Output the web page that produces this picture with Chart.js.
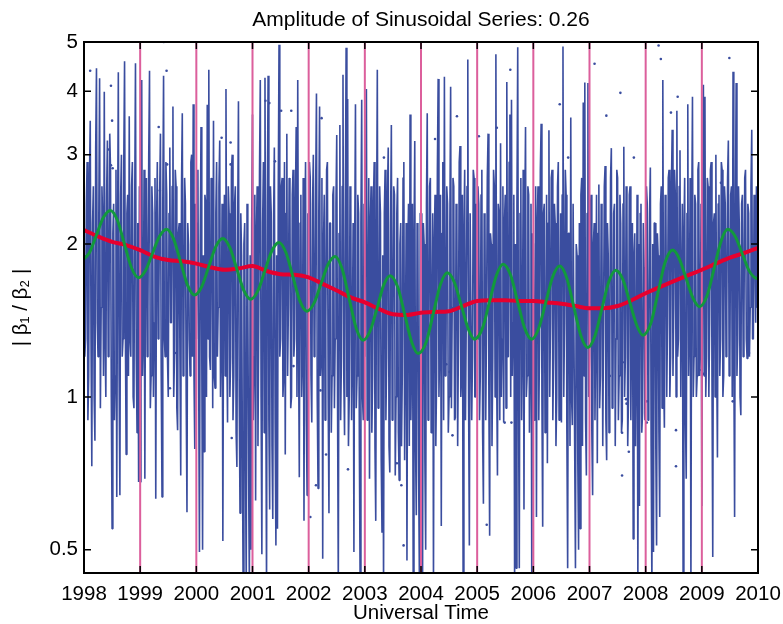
<!DOCTYPE html>
<html>
<head>
<meta charset="utf-8">
<script src="https://cdn.jsdelivr.net/npm/chart.js@4.4.1/dist/chart.umd.min.js"></script>
<style>
  html, body { margin: 0; padding: 0; background: #fff; }
</style>
</head>
<body>
<canvas id="chart" width="783" height="624"></canvas>
<script>
const TITLE = 'Amplitude of Sinusoidal Series: 0.26';
const FONT = '"Liberation Sans", Arial, Helvetica, sans-serif';

const yearTicks = [1998, 1999, 2000, 2001, 2002, 2003, 2004, 2005, 2006, 2007, 2008, 2009, 2010];
const yTicks = [0.5, 1, 2, 3, 4, 5];
const yearLines = [1999, 2000, 2001, 2002, 2003, 2004, 2005, 2006, 2007, 2008, 2009];
const Y_MIN = 0.45;
const Y_MAX = 5;

// blue ratio series, 72 samples per year
const blue1998 = [1.9,1.2, 1.3,2.4, 2.9,0.9, 1.1,2.7, 3.5,1.3, 0.73,2.2, 2.6,1.0, 0.82,3.1, 4.44,1.4, 1.2,2.3, 4.24,0.95, 1.5,2.6, 2.2,1.1, 3.99,1.3, 1.0,2.5, 3.2,1.2, 1.4,3.3, 2.8,1.0, 0.55,2.1, 2.4,0.9, 1.1,2.8, 0.635,2.0, 4.36,1.1, 0.64,2.5, 3.0,1.2, 1.3,2.9, 4.58,1.4, 0.77,2.3, 2.5,1.1, 3.57,1.3, 1.2,2.6, 2.9,1.0, 0.95,2.4, 4.54,1.2, 0.85,2.2, 0.68,2.6];
const blue1999 = [0.68,2.5, 4.21,1.1, 1.3,2.8, 0.69,2.3, 2.7,1.2, 1.5,3.0, 4.39,0.95, 1.1,2.6, 2.3,1.0, 1.4,2.7, 0.63,2.2, 2.9,1.3, 1.6,2.5, 3.3,1.1, 0.635,2.4, 4.29,1.3, 1.2,2.9, 2.5,1.2, 1.0,2.3, 3.1,1.4, 1.4,2.6, 3.73,1.0, 1.2,2.8, 2.6,0.95, 0.86,2.1, 2.2,1.2, 0.70,2.6, 3.62,1.1, 1.3,2.7, 2.4,1.0, 0.593,2.2, 2.0,1.3, 1.1,2.9, 3.0,1.2, 3.77,1.1, 0.79,2.4];
const blue2000 = [1.3,2.2, 2.8,1.1, 0.495,2.0, 3.4,1.2, 0.50,1.9, 0.78,2.5, 2.4,1.0, 3.76,1.3, 4.41,1.2, 1.13,2.7, 2.6,0.95, 3.5,1.1, 1.04,2.3, 2.9,1.2, 1.5,2.6, 3.2,1.0, 1.3,2.4, 0.52,1.8, 2.5,1.1, 4.04,1.3, 0.89,2.6, 2.3,1.0, 1.2,2.8, 3.0,0.9, 1.1,2.4, 2.6,0.85, 0.728,2.2, 3.82,1.0, 0.59,2.3, 1.9,0.8, 0.42,2.0, 2.2,0.75, 0.42,2.4, 1.6,0.7, 0.42,1.9, 0.5,2.2];
const blue2001 = [3.6,0.9, 1.2,2.5, 0.625,2.1, 2.6,0.8, 1.4,2.8, 4.21,1.0, 0.49,2.2, 2.9,0.85, 4.25,1.1, 0.42,2.4, 4.29,0.9, 0.6,2.6, 2.3,0.8, 0.575,2.2, 3.1,0.9, 0.51,1.9, 0.55,2.5, 4.94,1.2, 1.3,2.6, 2.7,1.0, 1.1,2.9, 0.77,2.3, 3.3,1.1, 1.5,2.7, 2.4,0.95, 1.0,2.5, 2.8,1.2, 1.3,2.4, 3.4,1.0, 4.21,1.3, 0.695,2.2, 2.5,1.0, 1.2,2.7, 0.57,2.0, 2.9,0.9, 0.64,2.3];
const blue2002 = [1.5,2.9, 2.7,1.1, 0.89,2.4, 3.0,1.2, 1.3,2.6, 3.96,1.0, 0.66,2.3, 3.73,1.1, 1.2,2.7, 0.48,2.0, 2.5,0.9, 1.4,2.8, 2.9,1.0, 0.59,2.2, 2.2,0.85, 1.1,2.5, 2.6,0.95, 1.3,2.4, 3.28,1.0, 0.42,2.1, 3.43,0.9, 1.2,2.6, 4.31,1.1, 0.84,2.3, 4.87,1.0, 3.86,0.8, 1.0,2.6, 2.4,0.9, 1.3,2.2, 0.495,2.0, 3.77,0.95, 1.1,2.5, 2.3,0.8, 0.42,2.2, 3.85,1.0, 0.9,2.4];
const blue2003 = [1.2,2.5, 4.04,0.9, 1.4,2.7, 0.69,2.2, 2.6,0.85, 1.1,2.4, 2.9,0.8, 0.57,2.1, 4.41,0.95, 1.0,2.6, 2.3,0.75, 0.54,1.9, 0.42,2.3, 2.8,0.9, 1.2,2.5, 3.1,0.8, 0.71,2.2, 3.43,0.9, 1.3,2.6, 2.5,0.7, 1.0,2.3, 2.7,0.85, 0.685,2.0, 2.2,0.8, 1.1,2.7, 2.9,0.75, 1.3,2.2, 0.476,1.9, 2.4,0.8, 3.6,0.9, 1.2,2.4, 0.42,2.0, 3.19,0.8, 0.585,2.2, 2.1,0.7, 0.42,2.3];
const blue2004 = [2.3,0.8, 0.42,2.2, 2.0,0.75, 0.5,2.4, 3.62,0.9, 1.2,2.6, 2.7,0.85, 1.4,2.3, 0.42,2.0, 2.5,0.8, 1.1,2.8, 4.23,1.0, 1.3,2.5, 0.557,2.1, 2.9,0.9, 4.27,1.1, 1.2,2.6, 2.4,0.85, 1.0,2.2, 4.08,0.95, 1.5,2.7, 2.6,0.9, 0.91,2.4, 2.2,0.8, 1.3,2.9, 3.12,1.0, 1.1,2.5, 0.42,2.1, 2.8,0.9, 1.4,2.6, 4.62,1.0, 0.51,2.3, 2.3,0.9, 1.2,2.8, 2.7,1.0, 1.0,2.4];
const blue2005 = [1.3,2.6, 2.4,0.9, 1.1,2.5, 2.8,0.85, 0.616,2.3, 2.2,0.9, 1.4,2.7, 3.3,1.0, 0.533,2.1, 2.0,0.8, 1.2,2.8, 2.6,1.0, 4.73,1.1, 0.70,2.4, 2.3,0.9, 3.16,1.0, 1.3,2.6, 0.89,2.2, 2.5,0.95, 4.17,1.2, 1.2,2.9, 3.6,1.0, 3.85,1.1, 1.4,2.5, 0.42,2.0, 0.46,2.4, 4.88,1.0, 0.46,2.3, 2.7,0.9, 1.3,2.8, 0.6,2.2, 3.4,1.0, 1.1,2.6, 2.5,0.85, 1.3,2.4, 0.42,2.1];
const blue2006 = [2.0,0.9, 1.2,2.6, 0.58,2.2, 2.6,0.9, 1.3,2.8, 3.45,1.0, 0.555,2.3, 2.4,0.85, 1.1,2.5, 0.74,2.2, 3.35,1.0, 1.4,2.7, 2.8,0.9, 1.2,2.4, 2.2,0.8, 1.0,2.6, 2.9,0.9, 1.3,2.3, 0.89,2.5, 4.9,1.0, 1.4,2.8, 2.5,0.85, 0.46,2.1, 2.1,0.8, 3.55,1.0, 0.88,2.4, 2.4,0.8, 0.46,2.0, 1.9,0.75, 0.5,2.2, 0.55,2.5, 2.7,0.8, 3.8,1.1, 4.16,0.9, 0.7,2.3, 4.15,1.0];
const blue2007 = [1.2,2.3, 2.5,0.85, 0.64,2.0, 2.2,0.9, 1.3,2.5, 0.74,2.1, 2.62,0.95, 1.1,2.4, 2.0,0.8, 1.4,2.6, 2.85,0.9, 0.75,2.2, 1.9,0.85, 1.2,2.7, 3.09,0.95, 1.0,2.3, 2.4,0.8, 1.3,2.8, 2.7,0.9, 1.1,2.5, 2.2,0.85, 0.9,2.4, 3.11,1.0, 1.2,2.6, 2.3,0.8, 1.0,2.5, 2.6,0.9, 1.4,2.2, 0.525,1.9, 2.1,0.8, 1.2,2.5, 0.42,2.0, 0.61,2.3, 2.4,0.85, 0.93,2.2, 1.8,0.9];
const blue2008 = [1.3,2.6, 2.4,0.9, 1.1,2.3, 2.83,0.8, 0.42,2.0, 0.495,2.2, 2.2,0.8, 0.51,2.1, 1.9,0.85, 0.58,2.4, 2.6,0.95, 4.21,1.1, 0.87,2.5, 2.3,1.0, 1.4,2.7, 2.8,1.0, 1.2,2.6, 3.36,1.1, 1.5,2.8, 2.5,1.0, 3.66,1.2, 1.3,2.6, 3.06,1.0, 1.6,2.4, 0.42,2.1, 2.7,0.9, 0.69,2.3, 3.77,1.1, 1.4,2.7, 0.42,2.2, 3.9,1.0, 1.2,2.5, 2.4,1.0, 1.1,2.8, 2.9,1.1, 1.3,2.4];
const blue2009 = [0.61,2.3, 4.12,1.1, 3.9,1.0, 1.2,2.7, 2.6,1.0, 1.4,2.8, 2.9,1.1, 0.484,2.2, 2.3,1.0, 3.0,1.2, 0.76,2.4, 2.5,1.1, 1.3,2.9, 2.8,1.0, 1.1,2.6, 2.4,1.2, 1.5,2.7, 3.2,1.1, 1.2,2.5, 2.6,1.0, 4.37,1.2, 0.58,2.3, 4.15,1.1, 1.3,2.6, 2.2,1.0, 0.92,2.4, 2.5,1.2, 1.4,2.7, 2.8,1.3, 1.19,2.4, 2.3,1.2, 1.5,2.6, 3.36,1.3, 1.3,2.5, 2.1,1.4, 2.6,1.5];
const blueLast = 1.5;

// isolated blue samples
const dotX = [1998.11, 1998.48, 1998.50, 1998.44, 1998.48, 1998.51, 1999.42, 1999.47, 1999.33, 1999.35, 1999.48, 2000.45, 2000.61, 2000.61, 2001.23, 2001.30, 2001.40, 2001.51, 2001.69, 2002.23, 2003.34, 2004.25, 2004.64, 2005.03, 2005.35, 2005.59, 2006.47, 2006.62, 2007.09, 2007.30, 2007.55, 2007.79, 2008.23, 2008.27, 2008.45, 2008.57, 2009.34, 2009.49, 1999.53, 1999.62, 2000.63, 2001.36, 2001.55, 2001.73, 2002.21, 2002.31, 2002.13, 2002.03, 2002.70, 2003.57, 2003.65, 2003.69, 2004.45, 2004.51, 2004.56, 2005.17, 2005.49, 2005.61, 2006.66, 2007.36, 2007.59, 2007.65, 2007.66, 2007.58, 2007.70, 2007.58, 2008.02, 2008.02, 2008.54, 2008.54, 2008.96, 2009.03, 2009.55, 2009.84];
const dotY = [4.39, 4.1, 3.5, 3.07, 2.86, 2.82, 5.0, 4.39, 3.4, 2.55, 2.87, 3.24, 3.17, 2.87, 3.83, 3.79, 2.91, 3.66, 3.66, 3.54, 2.96, 3.22, 3.57, 3.26, 3.39, 4.41, 3.77, 2.96, 4.53, 3.58, 3.97, 2.96, 4.92, 4.63, 3.63, 3.9, 2.64, 4.65, 1.04, 1.22, 0.83, 1.26, 1.19, 1.15, 1.03, 0.77, 0.67, 0.58, 0.72, 0.74, 0.67, 0.51, 1.16, 1.12, 0.84, 0.56, 0.89, 0.89, 1.10, 1.10, 1.17, 0.99, 0.97, 0.85, 0.78, 0.70, 0.98, 0.89, 0.73, 0.86, 1.13, 1.11, 0.98, 1.22];

// smooth trend (red)
const trendX = [1998.0, 1998.25, 1998.5, 1998.75, 1999.0, 1999.25, 1999.5, 1999.75, 2000.0, 2000.25, 2000.5, 2000.75, 2001.0, 2001.25, 2001.5, 2001.75, 2002.0, 2002.25, 2002.5, 2002.75, 2003.0, 2003.25, 2003.5, 2003.75, 2004.0, 2004.25, 2004.5, 2004.75, 2005.0, 2005.25, 2005.5, 2005.75, 2006.0, 2006.25, 2006.5, 2006.75, 2007.0, 2007.25, 2007.5, 2007.75, 2008.0, 2008.25, 2008.5, 2008.75, 2009.0, 2009.25, 2009.5, 2009.75, 2010.0];
const trendY = [2.13, 2.07, 2.02, 1.99, 1.945, 1.89, 1.86, 1.85, 1.83, 1.80, 1.78, 1.79, 1.81, 1.77, 1.745, 1.74, 1.72, 1.67, 1.62, 1.57, 1.535, 1.49, 1.455, 1.45, 1.465, 1.47, 1.475, 1.51, 1.545, 1.55, 1.55, 1.545, 1.545, 1.535, 1.525, 1.51, 1.495, 1.495, 1.51, 1.55, 1.60, 1.645, 1.69, 1.735, 1.78, 1.83, 1.88, 1.92, 1.965];

// sinusoidal fit (green)
const sineX = [1998.0,
  1998.095, 1998.22, 1998.345, 1998.47, 1998.595, 1998.72, 1998.845, 1998.97,
  1999.095, 1999.22, 1999.345, 1999.47, 1999.595, 1999.72, 1999.845, 1999.97,
  2000.095, 2000.22, 2000.345, 2000.47, 2000.595, 2000.72, 2000.845, 2000.97,
  2001.095, 2001.22, 2001.345, 2001.47, 2001.595, 2001.72, 2001.845, 2001.97,
  2002.095, 2002.22, 2002.345, 2002.47, 2002.595, 2002.72, 2002.845, 2002.97,
  2003.095, 2003.22, 2003.335, 2003.45, 2003.585, 2003.71, 2003.835, 2003.95,
  2004.095, 2004.22, 2004.345, 2004.47, 2004.595, 2004.72, 2004.845, 2004.95,
  2005.095, 2005.22, 2005.345, 2005.46, 2005.595, 2005.72, 2005.845, 2005.97,
  2006.095, 2006.22, 2006.345, 2006.47, 2006.595, 2006.72, 2006.845, 2006.97,
  2007.095, 2007.22, 2007.345, 2007.47, 2007.595, 2007.72, 2007.845, 2007.95,
  2008.095, 2008.22, 2008.345, 2008.48, 2008.595, 2008.72, 2008.845, 2008.96,
  2009.095, 2009.22, 2009.345, 2009.46, 2009.595, 2009.72, 2009.845, 2009.97, 2010.0];
const sineY = [1.87,
  1.922, 2.082, 2.255, 2.33, 2.228, 2.0, 1.796, 1.717,
  1.774, 1.918, 2.072, 2.14, 2.048, 1.843, 1.658, 1.587,
  1.648, 1.804, 1.975, 2.05, 1.97, 1.787, 1.621, 1.557,
  1.617, 1.771, 1.94, 2.015, 1.925, 1.724, 1.544, 1.475,
  1.53, 1.67, 1.823, 1.89, 1.788, 1.564, 1.367, 1.293,
  1.35, 1.497, 1.66, 1.733, 1.646, 1.453, 1.282, 1.217,
  1.284, 1.462, 1.664, 1.756, 1.68, 1.51, 1.358, 1.299,
  1.366, 1.54, 1.738, 1.826, 1.738, 1.54, 1.366, 1.299,
  1.364, 1.533, 1.725, 1.81, 1.715, 1.505, 1.321, 1.251,
  1.317, 1.491, 1.688, 1.777, 1.702, 1.533, 1.381, 1.323,
  1.4, 1.605, 1.839, 1.946, 1.875, 1.712, 1.563, 1.505,
  1.585, 1.794, 2.031, 2.138, 2.07, 1.914, 1.769, 1.712, 1.71];

const blueYears = [blue1998, blue1999, blue2000, blue2001, blue2002, blue2003, blue2004, blue2005, blue2006, blue2007, blue2008, blue2009];
const bluePoints = [];
blueYears.forEach((vals, i) => {
  vals.forEach((v, k) => bluePoints.push({ x: 1998 + i + k / vals.length, y: v }));
});
bluePoints.push({ x: 2010, y: blueLast });

const dotPoints = dotX.map((x, i) => ({ x: x, y: dotY[i] }));
const trendPoints = trendX.map((x, i) => ({ x: x, y: trendY[i] }));
const sinePoints = sineX.map((x, i) => ({ x: x, y: sineY[i] }));
const linePoints = [];
yearLines.forEach(yr => {
  linePoints.push({ x: yr, y: Y_MIN }, { x: yr, y: Y_MAX }, { x: yr, y: null });
});

// matlab style box, inward ticks and title
const framePlugin = {
  id: 'frame',
  afterDatasetsDraw(chart) {
    const { ctx, chartArea: a, scales } = chart;
    const xs = scales.x, ys = scales.y;
    ctx.save();
    ctx.strokeStyle = '#000';
    ctx.lineWidth = 1.5;
    ctx.beginPath();
    yearTicks.forEach(t => {
      const px = xs.getPixelForValue(t);
      ctx.moveTo(px, a.bottom); ctx.lineTo(px, a.bottom - 7);
      ctx.moveTo(px, a.top); ctx.lineTo(px, a.top + 7);
    });
    yTicks.forEach(t => {
      const py = ys.getPixelForValue(t);
      ctx.moveTo(a.left, py); ctx.lineTo(a.left + 7, py);
      ctx.moveTo(a.right, py); ctx.lineTo(a.right - 7, py);
    });
    ctx.stroke();
    ctx.lineWidth = 2;
    ctx.strokeRect(a.left, a.top, a.right - a.left, a.bottom - a.top);
    ctx.fillStyle = '#000';
    ctx.font = '21px ' + FONT;
    ctx.textAlign = 'center';
    ctx.textBaseline = 'alphabetic';
    ctx.fillText(TITLE, (a.left + a.right) / 2, 26);
    ctx.restore();
  }
};

const tickFont = { family: FONT, size: 20.5 };

new Chart(document.getElementById('chart').getContext('2d'), {
  type: 'line',
  data: {
    datasets: [
      {
        label: 'Sinusoid', data: sinePoints, order: 0,
        borderColor: '#12993d', borderWidth: 3, pointRadius: 0,
        cubicInterpolationMode: 'monotone'
      },
      {
        label: 'Trend', data: trendPoints, order: 1,
        borderColor: '#e6002e', borderWidth: 4, pointRadius: 0,
        cubicInterpolationMode: 'monotone'
      },
      {
        label: 'Years', data: linePoints, order: 2,
        borderColor: '#dc5f9c', borderWidth: 2, pointRadius: 0, spanGaps: false
      },
      {
        label: 'Dots', data: dotPoints, order: 3, showLine: false,
        pointRadius: 1.3, pointBorderWidth: 0, pointBackgroundColor: '#3a4d9f'
      },
      {
        label: 'Ratio', data: bluePoints, order: 4,
        borderColor: '#3a4d9f', borderWidth: 1.6, pointRadius: 0,
        borderJoinStyle: 'bevel', tension: 0
      }
    ]
  },
  options: {
    responsive: false,
    animation: false,
    devicePixelRatio: 1,
    layout: { padding: { top: 42, right: 25, bottom: 0, left: 0 } },
    plugins: { legend: { display: false }, tooltip: { enabled: false }, title: { display: false } },
    scales: {
      x: {
        type: 'linear', min: 1998, max: 2010,
        afterBuildTicks: s => { s.ticks = yearTicks.map(v => ({ value: v })); },
        afterFit: s => { s.height = 51; s.paddingLeft = 0; s.paddingRight = 0; },
        ticks: { callback: v => String(v), color: '#000', font: tickFont, padding: 9, maxRotation: 0, autoSkip: false },
        grid: { display: false, drawTicks: false },
        border: { display: false },
        title: { display: true, text: 'Universal Time', color: '#000', font: tickFont, padding: { top: 0, bottom: -2 } }
      },
      y: {
        type: 'logarithmic', min: Y_MIN, max: Y_MAX,
        afterBuildTicks: s => { s.ticks = yTicks.map(v => ({ value: v })); },
        afterFit: s => { s.width = 84; },
        ticks: { callback: v => String(v), color: '#000', font: tickFont, padding: 6, autoSkip: false },
        grid: { display: false, drawTicks: false },
        border: { display: false },
        title: { display: true, text: '| β₁ / β₂ |', color: '#000', font: tickFont, padding: { top: 9, bottom: 0 } }
      }
    }
  },
  plugins: [framePlugin]
});
</script>
</body>
</html>
